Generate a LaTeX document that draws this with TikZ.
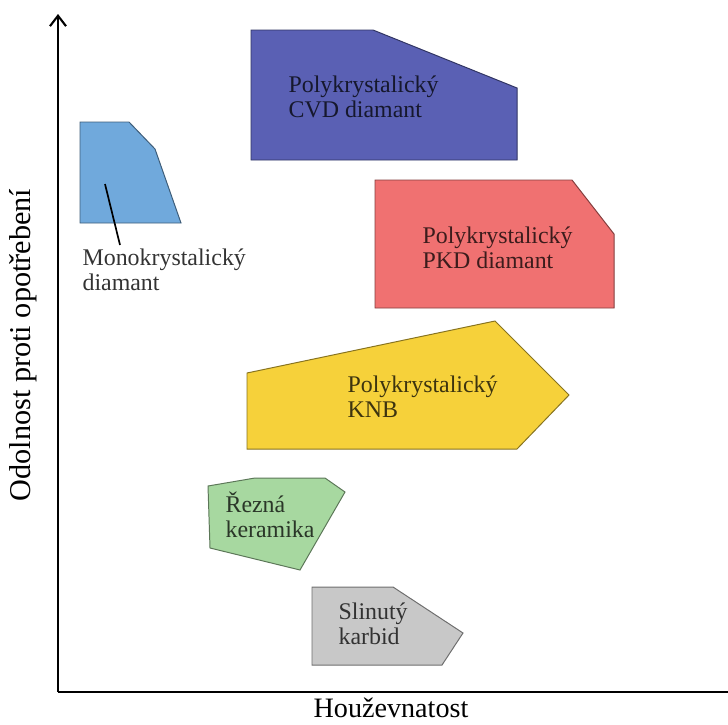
\documentclass[tikz,border=0pt]{standalone}
\usepackage{fontspec}
\setmainfont{Liberation Serif}
\usetikzlibrary{arrows.meta, positioning, calc}
\definecolor{cmono}{HTML}{70A9DC}
\definecolor{ccvd}{HTML}{5A60B4}
\definecolor{cpkd}{HTML}{F07171}
\definecolor{cknb}{HTML}{F6D13A}
\definecolor{cker}{HTML}{A7D8A0}
\definecolor{ckarb}{HTML}{C8C8C8}
\tikzset{
  every picture/.style={x=0.025cm, y=-0.025cm, line width=0.8pt},
  region/.style={draw=#1!55!black, fill=#1, line width=0.7pt},
  matname/.style={text=#1!25!black, font=\fontsize{17}{18}\selectfont, align=left, inner sep=0pt, anchor=west},
  axis/.style={draw=black, line width=1.5pt},
  axisname/.style={font=\fontsize{20}{24}\selectfont, inner sep=0pt},
}

\begin{document}
\begin{tikzpicture}
  \useasboundingbox (0,0) rectangle (728,724);
  % axes
  \coordinate (origin) at (58,692);
  \coordinate (ytop) at (58,14);
  \coordinate (xend) at (728,692);
  \draw[axis, -{Straight Barb[length=2.6mm, width=4mm, line width=1.5pt]}] (origin) -- (ytop);
  \draw[axis] (origin) -- (xend);
  \node[axisname] (xname) at (391,708) {Houževnatost};
  \node[axisname, font=\fontsize{21.5}{24}\selectfont, rotate=90] (yname) at (23,345) {Odolnost proti opotřebení};
  % material regions
  \draw[region=cmono] (80,122) -- (129,122) -- (155,149) -- (181,223) -- (80,223) -- cycle;
  \draw[region=ccvd] (251,30) -- (373,30) -- (517,88) -- (517,160) -- (251,160) -- cycle;
  \draw[region=cpkd] (375,180) -- (572,180) -- (614,234) -- (614,308) -- (375,308) -- cycle;
  \draw[region=cknb] (247,373) -- (495,321) -- (569,395) -- (517,449) -- (247,449) -- cycle;
  \draw[region=cker] (208,486) -- (255,478) -- (325,478) -- (345,492) -- (300,570) -- (210,548) -- cycle;
  \draw[region=ckarb] (312,587) -- (393,587) -- (463,633) -- (442,665) -- (312,665) -- cycle;
  % names
  \node[matname=black, text=black!80] (mono) at (82,270) {Monokrystalický\\diamant};
  \node[matname=ccvd] (cvd) at (288,97) {Polykrystalický\\CVD diamant};
  \node[matname=cpkd] (pkd) at (422,248) {Polykrystalický\\PKD diamant};
  \node[matname=cknb] (knb) at (347,397) {Polykrystalický\\KNB};
  \node[matname=cker] (ker) at (225,515) {Řezná\\keramika};
  \node[matname=ckarb] (karb) at (338,624) {Slinutý\\karbid};
  % leader for the single crystal
  \coordinate (monotip) at (105,184);
  \coordinate (monofoot) at (120,245);
  \draw[line width=1.2pt] (monotip) -- (monofoot);
\end{tikzpicture}
\end{document}
